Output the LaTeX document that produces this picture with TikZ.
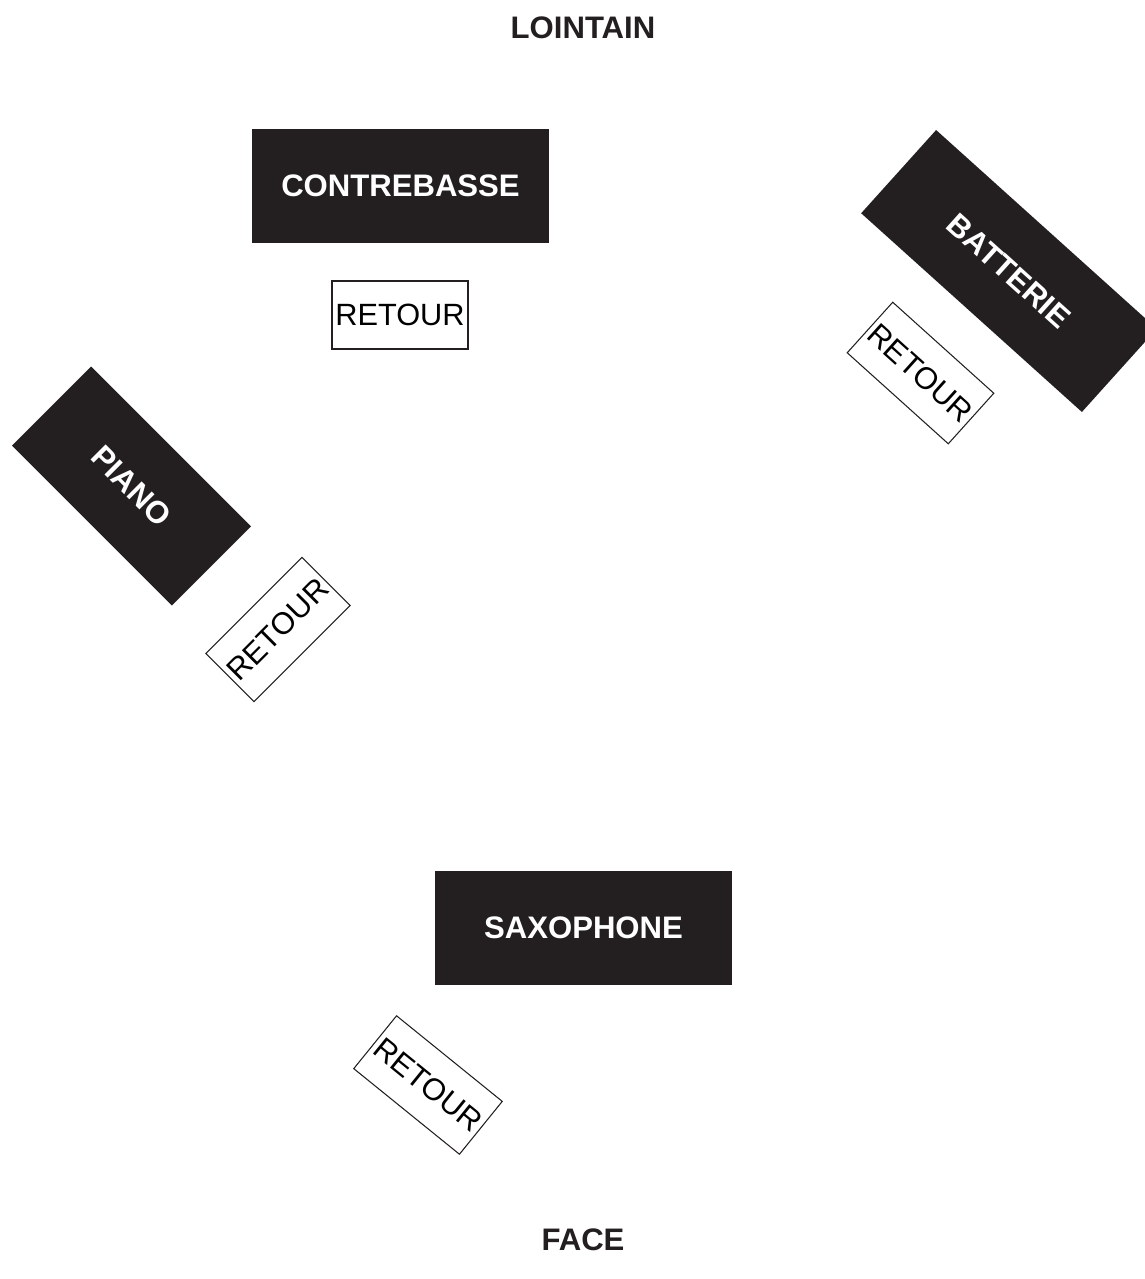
\documentclass[tikz,border=0pt]{standalone}
\usepackage{fontspec}
\setmainfont{Liberation Sans}
\usetikzlibrary{positioning}

\definecolor{stagedark}{HTML}{231F20}

\tikzset{
    instrument/.style={
        rectangle,
        fill=stagedark,
        text=white,
        font=\fontsize{17.7}{20}\selectfont\bfseries,
        inner sep=0pt,
        minimum width=5.94cm,
        minimum height=2.28cm
    },
    retour/.style={
        draw=stagedark,
        rectangle,
        line width=0.6pt,
        font=\fontsize{17.5}{20}\selectfont,
        inner sep=0pt,
        minimum width=2.72cm,
        minimum height=1.36cm
    },
    side/.style={
        font=\fontsize{17.7}{20}\selectfont\bfseries,
        text=stagedark
    }
}

\begin{document}
\begin{tikzpicture}
    \useasboundingbox (0,0) rectangle (22.88,-25.58);

    \node[side] (lointain) at (11.66,-0.56) {LOINTAIN};
    \node[side] (face) at (11.66,-24.8) {FACE};

    % back line
    \node[instrument] (contrebasse) at (8.01,-3.72) {CONTREBASSE};
    \node[retour] (retourC) at (8.0,-6.3) {RETOUR};

    \node[
        instrument,
        minimum height=2.24cm,
        rotate=-42
    ] (batterie) at (20.18,-5.42) {BATTERIE};
    \node[retour, rotate=-42] (retourB) at (18.41,-7.46) {RETOUR};

    \node[
        instrument,
        minimum width=4.52cm,
        minimum height=2.24cm,
        rotate=-45
    ] (piano) at (2.63,-9.72) {PIANO};
    \node[retour, rotate=45] (retourP) at (5.56,-12.59) {RETOUR};

    % front
    \node[instrument] (saxophone) at (11.67,-18.56) {SAXOPHONE};
    \node[retour, rotate=-39] (retourS) at (8.56,-21.7) {RETOUR};
\end{tikzpicture}
\end{document}
